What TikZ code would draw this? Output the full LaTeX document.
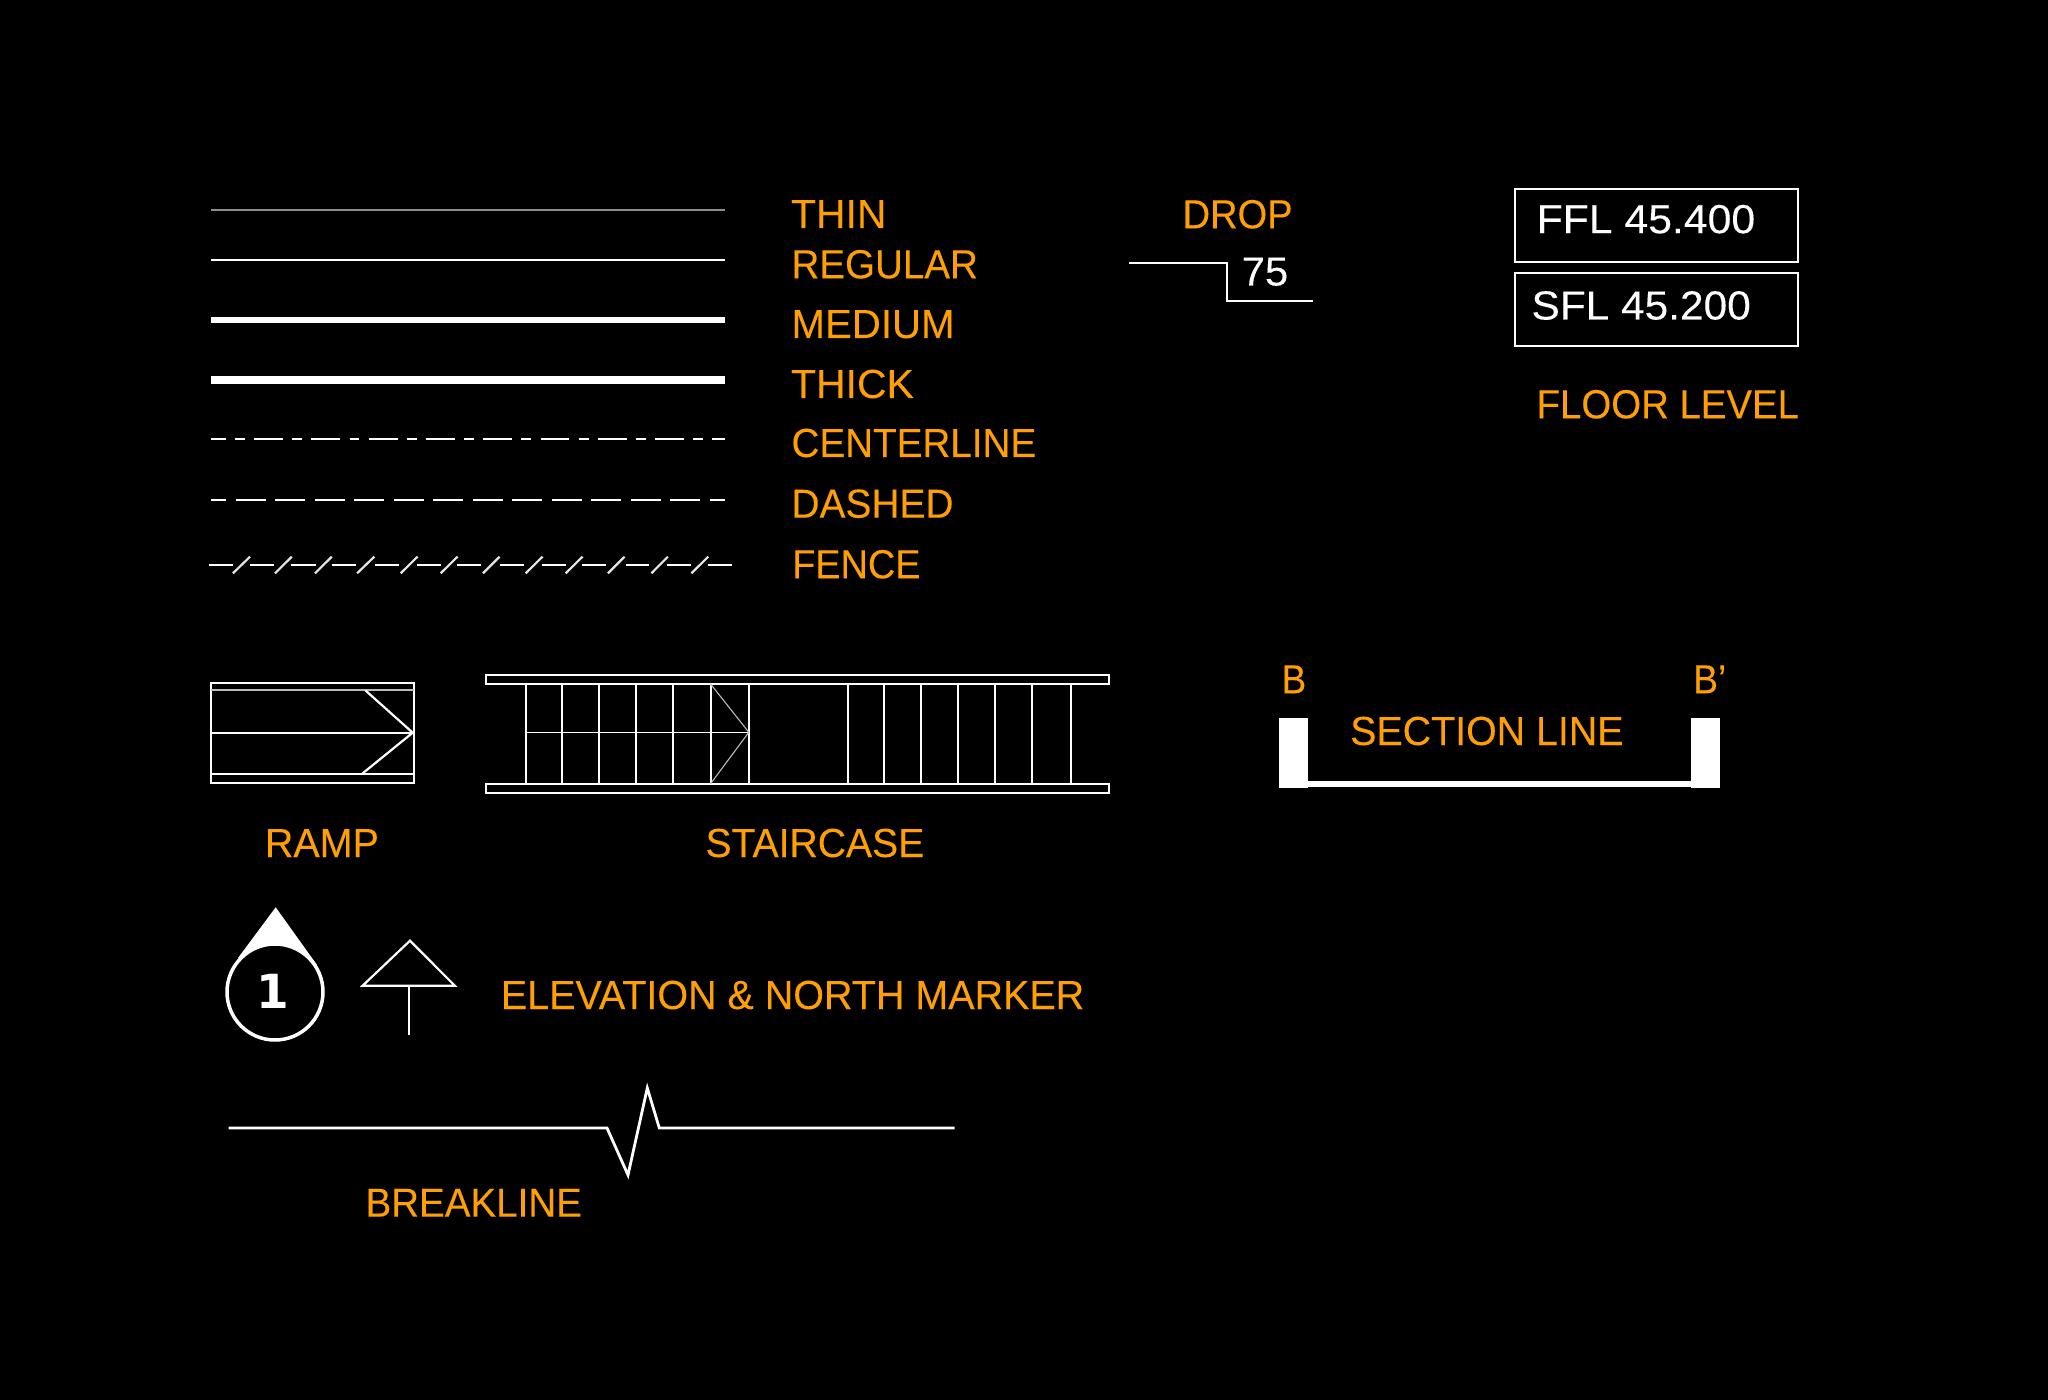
\documentclass[tikz,border=0pt]{standalone}
\usepackage{graphicx}
\usepackage{fontspec}
\setmainfont{Liberation Sans}[FakeBold=0.12]
\newfontfamily\onefont{DejaVu Sans}
\definecolor{amber}{HTML}{FFA000}
\definecolor{midgray}{HTML}{8C8C8C}
\definecolor{softgray}{HTML}{BBBBBB}
\tikzset{
  lab/.style={anchor=base west,inner sep=0pt,outer sep=0pt,font=\fontsize{20.3pt}{24pt}\selectfont},
  wire/.style={draw=white,line width=1.1pt,line join=miter,fill=none},
  thinwire/.style={draw=softgray,line width=0.55pt},
}
\newcommand{\lbl}[6]{%
  \pgfmathsetlengthmacro{\lblw}{(#3-#2+3)*0.5pt}%
  \pgfmathsetmacro{\lblx}{#2-1.8}%
  \node[lab,text=#5] (#1) at (\lblx,#4) {\resizebox{\lblw}{\height}{#6}};}
\begin{document}
\begin{tikzpicture}[x=0.5pt,y=-0.5pt]
\useasboundingbox (0,0) rectangle (2048,1400);
\fill[black] (0,0) rectangle (2048,1400);

% line types
\draw[draw=midgray,line width=1pt] (211,210) -- (725,210);
\draw[wire] (211,260) -- (725,260);
\draw[wire,line width=3pt] (211,320) -- (725,320);
\draw[wire,line width=4pt] (211,380) -- (725,380);
\draw[wire,dash pattern=on 14.45pt off 4.65pt on 4.9pt off 4.65pt,dash phase=7.15pt] (211,438.7) -- (725,438.7);
\draw[wire,dash pattern=on 14.9pt off 4.85pt,dash phase=7.4pt] (211,500) -- (725,500);
\foreach \a/\b in {208.9/232.9,249.6/273.6,291.4/315.7,331.8/355.7,375/398.9,416.8/441.1,457.1/481.1,500/523.9,541.8/566.1,582.1/606.1,625.7/649.3,667.1/691.4,707.5/732.1}
  \draw[wire] (\a,564.7) -- (\b,564.7);
\foreach \a/\b in {232.9/250,275/291.8,315/331.8,357.1/374.3,400.7/417.5,440.7/457.5,482.9/499.6,525.7/542.5,565.7/582.5,607.9/624.6,651.4/667.9,691.4/708.2}
  \draw[wire,draw=white!90!black] (\a,573.3) -- (\b,556.7);

\lbl{thin}{792.7}{885.3}{228}{amber}{THIN}
\lbl{regular}{793.3}{976.7}{278.3}{amber}{REGULAR}
\lbl{medium}{793.3}{953.3}{338}{amber}{MEDIUM}
\lbl{thick}{792.7}{912.7}{398}{amber}{THICK}
\lbl{center}{793.3}{1035}{457}{amber}{CENTERLINE}
\lbl{dashedl}{793.3}{952.3}{517.7}{amber}{DASHED}
\lbl{fence}{794}{919.3}{578.3}{amber}{FENCE}

% drop
\lbl{droplabel}{1184.4}{1291.4}{228.3}{amber}{DROP}
\lbl{dropvalue}{1243.5}{1287}{285.5}{white}{75}
\draw[wire] (1129,263) -- (1226.6,263) -- (1226.6,301) -- (1312.5,301);

% floor level
\draw[wire] (1515,188.7) rectangle (1797.8,262);
\draw[wire] (1515,273) rectangle (1797.8,346);
\lbl{ffl}{1538.4}{1754}{233.2}{white}{FFL 45.400}
\lbl{sfl}{1533.3}{1749.6}{319.5}{white}{SFL 45.200}
\lbl{floor}{1538.4}{1797.8}{418.3}{amber}{FLOOR LEVEL}

% ramp
\draw[wire] (210.7,682.7) rectangle (413.9,783);
\draw[wire,draw=softgray] (210.7,690.3) -- (413.9,690.3);
\draw[wire] (210.7,732.7) -- (413.9,732.7);
\draw[wire] (210.7,773.7) -- (413.9,773.7);
\draw[wire] (365.3,690.3) -- (412.7,732.7) -- (362.2,773.7);
\lbl{ramp}{266.7}{377.7}{857}{amber}{RAMP}

% staircase
\draw[wire] (486,674.7) rectangle (1109.2,684);
\draw[wire] (486,783.7) rectangle (1109.2,793);
\foreach \x in {525.9,561.9,598.8,636.1,672.9,710.6,748.8,847.7,883.7,921,958.3,995.1,1032,1071}
  \draw[wire] (\x,684) -- (\x,783.7);
\draw[wire,line width=0.8pt] (525.9,732.3) -- (748.8,732.3);
\draw[thinwire] (710.6,684) -- (748.8,732.3) -- (710.6,783.7);
\lbl{stair}{707.3}{923}{857}{amber}{STAIRCASE}

% section line
\fill[white] (1279.3,717.7) rectangle (1308.3,788.3);
\fill[white] (1691,717.7) rectangle (1720.3,788.3);
\draw[wire,line width=2.85pt] (1308.3,783.8) -- (1691,783.8);
\lbl{secb}{1283.3}{1305}{693.3}{amber}{B}
\lbl{secbp}{1695}{1725}{693.3}{amber}{B’}
\lbl{section}{1352}{1622.3}{745}{amber}{SECTION LINE}

% elevation marker
\fill[white] (275.7,907.3) -- (317,965) -- (238,958) -- cycle;
\draw[draw=white,fill=black,line width=1.75pt] (275,992) circle[radius=48];
\node[anchor=base,inner sep=0pt,text=white,font=\onefont\bfseries\fontsize{23.5pt}{28pt}\selectfont] (elevnum) at (273,1008) {1};

% north marker
\draw[wire] (410,940.7) -- (454.8,985.7) -- (362.6,985.7) -- cycle;
\draw[wire] (408.6,985.7) -- (408.6,1035.3);
\lbl{elev}{502.7}{1083}{1009}{amber}{ELEVATION \& NORTH MARKER}

% breakline
\draw[wire,line width=1.4pt] (228.6,1128) -- (607,1128) -- (628,1175) -- (647.3,1088) -- (659.3,1128) -- (954.7,1128);
\lbl{brk}{367.3}{580.7}{1216.7}{amber}{BREAKLINE}
\end{tikzpicture}
\end{document}
